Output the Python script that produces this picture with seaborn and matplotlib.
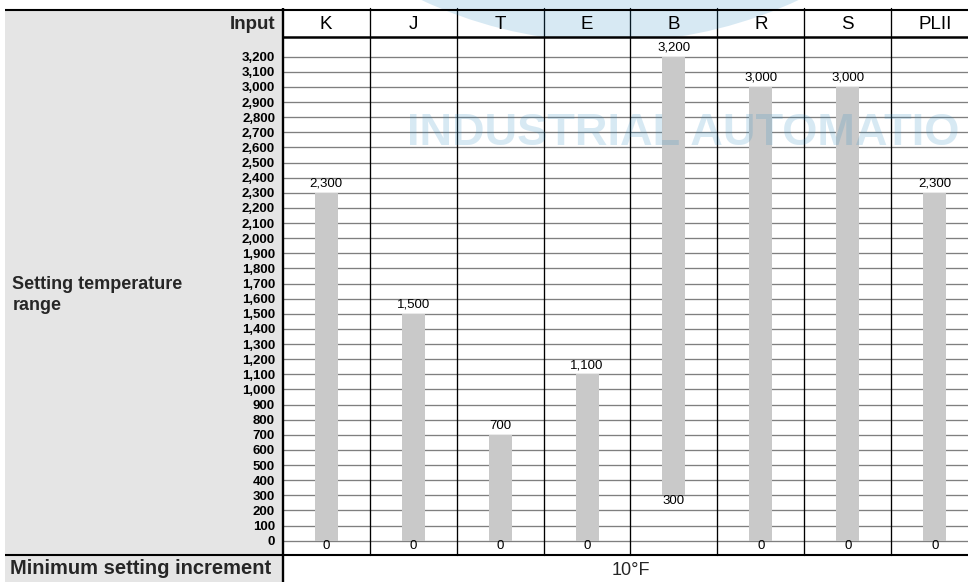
import numpy as np
import pandas as pd
import matplotlib
matplotlib.use("Agg")
import matplotlib.pyplot as plt
import matplotlib.transforms as mtransforms
from matplotlib.patches import Rectangle, Circle
from matplotlib.ticker import FuncFormatter
import seaborn as sns

# ---- table content -------------------------------------------------------
inputs = ["K", "J", "T", "E", "B", "R", "S", "PLII"]
range_low = [0, 0, 0, 0, 300, 0, 0, 0]
range_high = [2300, 1500, 700, 1100, 3200, 3000, 3000, 2300]
scale_ticks = list(range(0, 3201, 100))
header_title = "Input"
row_title = ["Setting temperature", "range"]
footer_title = "Minimum setting increment"
footer_value = "10°F"
watermark = "INDUSTRIAL AUTOMATIO"

sns.set_theme(style="white")
plt.rcParams["font.family"] = ["Liberation Sans", "DejaVu Sans"]

W, H = 968, 582
fig = plt.figure(figsize=(W / 100, H / 100), dpi=100)
fig.patch.set_facecolor("white")

# layout (pixels from top-left)
left_px, right_px = 282.7, 978.3
top_px, head_px, foot_px = 9.5, 37.3, 555.0
zero_px, top_tick_px = 540.7, 56.7
panel_x0 = 5
px_per_unit = (zero_px - top_tick_px) / scale_ticks[-1]

PANEL = "#e5e5e5"
BAR = "#c9c9c9"
GRID = "#7f7f7f"
WM = (45 / 255, 140 / 255, 195 / 255, 0.19)

# background layer: grey label panel
back = fig.add_axes([0, 0, 1, 1], zorder=0)
back.set_xlim(0, W)
back.set_ylim(H, 0)
back.axis("off")
back.add_patch(Rectangle((panel_x0, top_px), left_px - panel_x0, H - top_px,
                         facecolor=PANEL, edgecolor="none"))

# chart body
ax = fig.add_axes([left_px / W, (H - foot_px) / H,
                   (right_px - left_px) / W, (foot_px - head_px) / H], zorder=1)
ax.set_facecolor("none")

df = pd.DataFrame({"input": inputs,
                   "span": np.subtract(range_high, range_low),
                   "low": range_low})
sns.barplot(data=df, x="input", y="span", order=inputs, color=BAR,
            saturation=1, width=0.265, errorbar=None,
            bottom=df["low"].to_numpy(), linewidth=0, zorder=2, ax=ax)

ax.set_xlim(-0.5, len(inputs) - 0.5)
ax.set_ylim(-(foot_px - zero_px) / px_per_unit, (zero_px - head_px) / px_per_unit)
ax.set_yticks(scale_ticks)
ax.yaxis.set_major_formatter(FuncFormatter(lambda v, p: f"{int(v):,}"))
ax.tick_params(axis="y", length=0, pad=5.5, labelsize=9.5, labelcolor="black")
for lbl in ax.get_yticklabels():
    lbl.set_fontweight("bold")
ax.set_xticks([])
ax.set_xlabel("")
ax.set_ylabel("")
ax.grid(axis="y", color=GRID, linewidth=0.95)
ax.grid(axis="x", visible=False)
ax.set_axisbelow(True)
for s in ax.spines.values():
    s.set_visible(False)

# column separators, running up through the header row
col_top = 1 + (head_px - 8) / (foot_px - head_px)
for i in range(len(inputs) - 1):
    ax.axvline(i + 0.5, ymin=0, ymax=col_top, color="black",
               linewidth=0.95, clip_on=False, zorder=3)

# value labels at both ends of every bar
for i, (lo, hi) in enumerate(zip(range_low, range_high)):
    ax.annotate(f"{hi:,}", (i, hi), xytext=(0, 4.5), textcoords="offset points",
                ha="center", va="baseline", fontsize=9.5, color="black")
    ax.annotate(f"{lo:,}", (i, lo), xytext=(0, 0.3), textcoords="offset points",
                ha="center", va="top", fontsize=9.5, color="black")

# overlay layer: rules, headings, watermark
top = fig.add_axes([0, 0, 1, 1], zorder=2)
top.set_xlim(0, W)
top.set_ylim(H, 0)
top.axis("off")

top.plot([panel_x0, W], [top_px, top_px], color="black", lw=1.5, solid_capstyle="butt")
top.plot([left_px, W], [head_px, head_px], color="black", lw=1.8, solid_capstyle="butt")
top.plot([panel_x0, W], [foot_px, foot_px], color="black", lw=1.5, solid_capstyle="butt")
top.plot([left_px, left_px], [7.5, H], color="black", lw=1.7, solid_capstyle="butt")

# column headings
hdr = mtransforms.blended_transform_factory(ax.transData, top.transData)
for i, name in enumerate(inputs):
    top.text(i, 29.3, name, transform=hdr, ha="center", va="baseline",
             fontsize=13.5, color="black")
top.text(275, 29.3, header_title, ha="right", va="baseline",
         fontsize=13.5, fontweight="bold")

# row and footer labels
top.text(12.5, 289, row_title[0], ha="left", va="baseline",
         fontsize=13, fontweight="bold")
top.text(12.5, 310, row_title[1], ha="left", va="baseline",
         fontsize=13, fontweight="bold")
top.text(141, 574.5, footer_title, ha="center", va="baseline",
         fontsize=14.5, fontweight="bold")
top.text((len(inputs) - 1) / 2, 575, footer_value, transform=hdr,
         ha="center", va="baseline", fontsize=13)

# faint watermark
arc = Circle((610, -403), 445, facecolor=WM, edgecolor="none")
top.add_patch(arc)
arc.set_clip_path(Rectangle((0, 0), W, head_px, transform=top.transData))
top.text(407, 145, watermark, ha="left", va="baseline", fontsize=32.5,
         fontweight="bold", color=WM)

fig.savefig("out.png", dpi=100)
